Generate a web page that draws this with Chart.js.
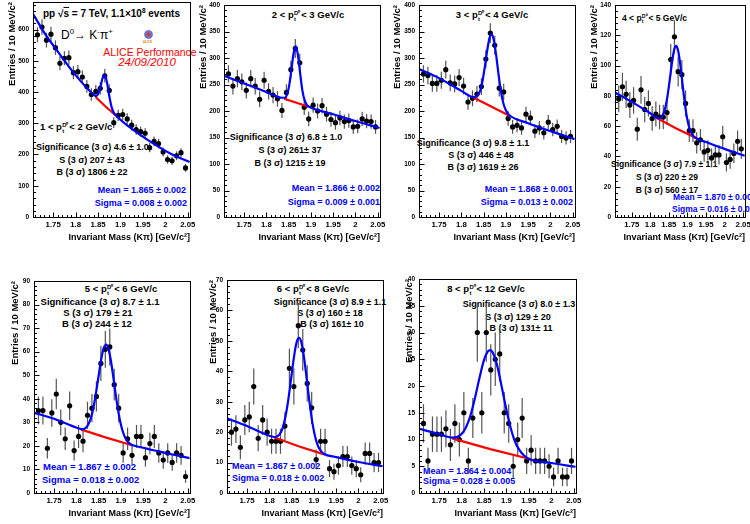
<!DOCTYPE html>
<html>
<head>
<meta charset="utf-8">
<script src="https://cdn.jsdelivr.net/npm/chart.js@4.4.1/dist/chart.umd.min.js"></script>
<style>
  html, body { margin: 0; padding: 0; background: #fff; }
  #page { position: relative; width: 750px; height: 524px; overflow: hidden; background: #fff; }
  #page canvas { position: absolute; }
  .t { position: absolute; white-space: nowrap; line-height: 1; font-family: "Liberation Sans", Arial, sans-serif;
       font-weight: bold; font-size: 9px; color: #000; }
  .c { transform: translate(-50%, -50%); }
  .l { transform: translate(0, -50%); }
  .r { transform: translate(-100%, -50%); }
  .blue { color: #0000ff; }
  .st { display: inline-block; font-size: 0.62em; line-height: 0.95; vertical-align: -0.45em; text-align: left; margin: 0 0.15em 0 0.05em; }
  .st span { display: block; }
  sup { font-size: 0.65em; vertical-align: 0.6em; line-height: 0; }
  .logo { position: absolute; left: 144px; top: 30px; width: 9px; height: 9px; border-radius: 50%;
          background: radial-gradient(circle, #d04020 0 25%, #7070d0 35% 60%, #b0a0e0 75%); }
  .logotxt { position: absolute; left: 143px; top: 40px; font: bold 3px "Liberation Sans", Arial, sans-serif; color: #e08000; }
</style>
</head>
<body>
<div id="page">

  <!-- panel 1 texts -->
  <div class="t l" style="left:43px;top:14px;font-size:10px">pp √<span style="text-decoration:overline">s</span> = 7 TeV, 1.1×10<sup>8</sup> events</div>
  <div class="t l" style="left:61px;top:35px;font-size:12px;font-weight:normal">D<sup>0</sup>→ K<sup>-</sup>π<sup>+</sup></div>
  <div class="logo"></div><div class="logotxt">ALICE</div>
  <div class="t c" style="left:150px;top:52px;font-size:10.5px;font-weight:normal;color:#ff0000">ALICE Performance</div>
  <div class="t c" style="left:147px;top:63px;font-size:11.5px;font-weight:normal;font-style:italic;color:#ff0000">24/09/2010</div>
  <div class="t l" style="left:40px;top:128px;font-size:9.5px">1 &lt; p<span class="st"><span>D⁰</span><span>t</span></span>&lt; 2 GeV/c</div>
  <div class="t l" style="left:36px;top:147px">Significance (3 σ) 4.6 ± 1.0</div>
  <div class="t c" style="left:92px;top:160px">S (3 σ) 207 ± 43</div>
  <div class="t c" style="left:92px;top:172px">B (3 σ) 1806 ± 22</div>
  <div class="t r blue" style="left:186px;top:190px">Mean = 1.865 ± 0.002</div>
  <div class="t r blue" style="left:187px;top:203px">Sigma = 0.008 ± 0.002</div>

  <!-- panel 2 texts -->
  <div class="t c" style="left:308px;top:16px;font-size:9.5px">2 &lt; p<span class="st"><span>D⁰</span><span>t</span></span>&lt; 3 GeV/c</div>
  <div class="t c" style="left:286px;top:137px">Significance (3 σ) 6.8 ± 1.0</div>
  <div class="t c" style="left:290px;top:150px">S (3 σ) 261± 37</div>
  <div class="t c" style="left:290px;top:163px">B (3 σ) 1215 ± 19</div>
  <div class="t r blue" style="left:380px;top:188px">Mean = 1.866 ± 0.002</div>
  <div class="t r blue" style="left:380px;top:202px">Sigma = 0.009 ± 0.001</div>

  <!-- panel 3 texts -->
  <div class="t c" style="left:492px;top:16px;font-size:9.5px">3 &lt; p<span class="st"><span>D⁰</span><span>t</span></span>&lt; 4 GeV/c</div>
  <div class="t c" style="left:473px;top:143px">Significance (3 σ) 9.8 ± 1.1</div>
  <div class="t c" style="left:481px;top:155px">S (3 σ) 446 ± 48</div>
  <div class="t c" style="left:483px;top:167px">B (3 σ) 1619 ± 26</div>
  <div class="t r blue" style="left:573px;top:189px">Mean = 1.868 ± 0.001</div>
  <div class="t r blue" style="left:573px;top:202px">Sigma = 0.013 ± 0.002</div>

  <!-- panel 4 texts -->
  <div class="t l" style="left:622px;top:19px;font-size:8.5px">4 &lt; p<span class="st"><span>D⁰</span><span>t</span></span>&lt; 5 GeV/c</div>
  <div class="t l" style="left:611px;top:164px;font-size:8.5px">Significance (3 σ) 7.9 ± 1.1</div>
  <div class="t c" style="left:667px;top:177px;font-size:8.5px">S (3 σ) 220 ± 29</div>
  <div class="t c" style="left:667px;top:190px;font-size:8.5px">B (3 σ) 560 ± 17</div>
  <div class="t l blue" style="left:673px;top:197px;font-size:8.5px">Mean = 1.870 ± 0.003</div>
  <div class="t l blue" style="left:672px;top:209px;font-size:8.5px">Sigma = 0.016 ± 0.003</div>

  <!-- panel 5 texts -->
  <div class="t c" style="left:121px;top:290px;font-size:9.5px">5 &lt; p<span class="st"><span>D⁰</span><span>t</span></span>&lt; 6 GeV/c</div>
  <div class="t c" style="left:100px;top:302px;font-size:9.5px">Significance (3 σ) 8.7 ± 1.1</div>
  <div class="t c" style="left:98px;top:313px;font-size:9.5px">S (3 σ) 179 ± 21</div>
  <div class="t c" style="left:97px;top:324px;font-size:9.5px">B (3 σ) 244 ± 12</div>
  <div class="t l blue" style="left:43px;top:467px;font-size:9.5px">Mean = 1.867 ± 0.002</div>
  <div class="t l blue" style="left:42px;top:480px;font-size:9.5px">Sigma = 0.018 ± 0.002</div>

  <!-- panel 6 texts -->
  <div class="t c" style="left:313px;top:290px;font-size:9.5px">6 &lt; p<span class="st"><span>D⁰</span><span>t</span></span>&lt; 8 GeV/c</div>
  <div class="t c" style="left:330px;top:302px">Significance (3 σ) 8.9 ± 1.1</div>
  <div class="t c" style="left:330px;top:313px">S (3 σ) 160 ± 18</div>
  <div class="t c" style="left:332px;top:324px">B (3 σ) 161± 10</div>
  <div class="t l blue" style="left:232px;top:466px">Mean = 1.867 ± 0.002</div>
  <div class="t l blue" style="left:232px;top:478px">Sigma = 0.018 ± 0.002</div>

  <!-- panel 7 texts -->
  <div class="t c" style="left:486px;top:290px;font-size:9.5px">8 &lt; p<span class="st"><span>D⁰</span><span>t</span></span>&lt; 12 GeV/c</div>
  <div class="t c" style="left:519px;top:304px">Significance (3 σ) 8.0 ± 1.3</div>
  <div class="t c" style="left:518px;top:317px">S (3 σ) 129 ± 20</div>
  <div class="t c" style="left:521px;top:328px">B (3 σ) 131± 11</div>
  <div class="t l blue" style="left:423px;top:471px">Mean = 1.864 ± 0.004</div>
  <div class="t l blue" style="left:423px;top:481px">Sigma = 0.028 ± 0.005</div>
</div>

<script>
// ---- data ----
// invariant-mass bin centres (GeV/c^2)
const MASS = [1.715, 1.725, 1.735, 1.745, 1.755, 1.765, 1.775, 1.785, 1.795, 1.805,
              1.815, 1.825, 1.835, 1.845, 1.855, 1.865, 1.875, 1.885, 1.895, 1.905,
              1.915, 1.925, 1.935, 1.945, 1.955, 1.965, 1.975, 1.985, 1.995, 2.005,
              2.015, 2.025, 2.035, 2.045];
const X_TICKS = [1.75, 1.8, 1.85, 1.9, 1.95, 2, 2.05];
const X_MIN = 1.705;
const X_MAX = 2.055;

// 1 < pt < 2
const COUNTS_1 = [583, 608, 566, 585, 542, 492, 508, 510, 462, 465, 448, 418, 392, 402, 412, 452, 405,
                  302, 325, 328, 314, 294, 280, 273, 268, 222, 242, 235, 208, 184, 180, 196, 206, 157];
const FIT_X_1 = [1.706, 1.73, 1.76, 1.80, 1.84, 1.845, 1.85, 1.855, 1.86, 1.865, 1.87, 1.875, 1.88, 1.885, 1.89, 1.93, 1.97, 2.01, 2.054];
const FIT_Y_1 = [648, 590, 530, 454, 392, 387, 393, 414, 444, 455, 430, 388, 353, 334, 325, 277, 238, 204, 176];
const BKG_X_1 = [1.845, 1.865, 1.89];
const BKG_Y_1 = [383, 356, 324];
const Y_TICKS_1 = [0, 100, 200, 300, 400, 500, 600];

// 2 < pt < 3
const COUNTS_2 = [270, 247, 261, 255, 239, 261, 247, 222, 258, 237, 230, 223, 201, 235, 278, 318, 291,
                  207, 185, 211, 200, 210, 194, 184, 178, 187, 180, 182, 170, 171, 185, 181, 180, 170];
const FIT_X_2 = [1.706, 1.75, 1.80, 1.836, 1.841, 1.846, 1.851, 1.856, 1.861, 1.866, 1.871, 1.876, 1.881, 1.886, 1.891, 1.896, 1.95, 2.0, 2.054];
const FIT_Y_2 = [266, 252, 236, 225, 225, 230, 247, 276, 308, 322, 305, 270, 238, 220, 211, 208, 194, 181, 168];
const BKG_X_2 = [1.84, 1.866, 1.895];
const BKG_Y_2 = [223, 216, 208];
const Y_TICKS_2 = [0, 50, 100, 150, 200, 250, 300, 350, 400];

// 3 < pt < 4
const COUNTS_3 = [270, 267, 252, 252, 258, 278, 253, 251, 263, 247, 217, 224, 232, 246, 298, 347, 324,
                  243, 236, 186, 170, 173, 168, 194, 187, 162, 168, 159, 179, 165, 171, 152, 149, 152];
const FIT_X_3 = [1.706, 1.75, 1.80, 1.828, 1.833, 1.838, 1.843, 1.848, 1.853, 1.858, 1.863, 1.868, 1.873, 1.878,
                 1.883, 1.888, 1.893, 1.898, 1.903, 1.908, 1.95, 2.0, 2.054];
const FIT_Y_3 = [279, 262, 238, 226, 227, 231, 240, 259, 285, 314, 337, 345, 333, 306, 272, 241, 219, 205, 197, 192, 177, 162, 147];
const BKG_X_3 = [1.828, 1.868, 1.908];
const BKG_Y_3 = [225, 208, 191];
const Y_TICKS_3 = [0, 50, 100, 150, 200, 250, 300, 350, 400];

// 4 < pt < 5
const COUNTS_4 = [78, 86, 81, 74, 77, 58, 84, 71, 75, 65, 68, 66, 66, 69, 104, 119, 96,
                  94, 75, 57, 57, 49, 51, 43, 44, 39, 41, 41, 53, 36, 38, 42, 50, 45];
const FIT_X_4 = [1.706, 1.75, 1.80, 1.82, 1.825, 1.83, 1.835, 1.84, 1.845, 1.85, 1.855, 1.86, 1.865, 1.87, 1.875,
                 1.88, 1.885, 1.89, 1.895, 1.90, 1.905, 1.91, 1.915, 1.92, 1.95, 2.0, 2.054];
const FIT_Y_4 = [82, 76, 68.5, 65.3, 65.3, 66, 68, 71.8, 77.8, 86.1, 95.6, 104.7, 111, 113, 109.8,
                 102.1, 91.8, 80.9, 71.4, 64, 59, 55.8, 53.7, 52.5, 49.5, 45, 40.5];
const BKG_X_4 = [1.82, 1.87, 1.925];
const BKG_Y_4 = [65, 58.5, 52];
const Y_TICKS_4 = [0, 20, 40, 60, 80, 100, 120, 140];

// 5 < pt < 6
const COUNTS_5 = [35, 35, 19, 34, 42, 30, 23, 37, 18, 24, 22, 33, 36, 41, 55, 61, 62,
                  46, 36, 17, 23, 16, 24, 24, 15, 21, 24, 17, 14, 17, 13, 17, 16, 7];
const FIT_X_5 = [1.706, 1.75, 1.79, 1.812, 1.817, 1.822, 1.827, 1.832, 1.837, 1.842, 1.847, 1.852, 1.857, 1.862, 1.867,
                 1.872, 1.877, 1.882, 1.887, 1.892, 1.897, 1.902, 1.907, 1.912, 1.917, 1.922, 1.95, 2.0, 2.054];
const FIT_Y_5 = [34, 31.5, 28.5, 27.1, 27.2, 27.8, 29.2, 31.5, 35, 40, 46, 52.3, 58, 61.8, 63,
                 61.2, 56.8, 50.5, 43.6, 37.1, 31.6, 27.5, 24.6, 22.6, 21.4, 20.7, 19.2, 17, 14.8];
const BKG_X_5 = [1.81, 1.867, 1.925];
const BKG_Y_5 = [27, 23.5, 20.3];
const Y_TICKS_5 = [0, 10, 20, 30, 40, 50, 60, 70, 80, 90];

// 6 < pt < 8
const COUNTS_6 = [20, 21, 15, 24, 25, 35, 18, 24, 20, 17, 17, 17, 22, 41, 35, 55, 47,
                  36, 28, 11, 17, 17, 8, 7, 9, 12, 12, 9, 8, 6, 13, 13, 10, 10];
const FIT_X_6 = FIT_X_5;
const FIT_Y_6 = [24.5, 22, 19.4, 18.4, 18.6, 19.1, 20.3, 22.4, 25.7, 30.1, 35.5, 41.2, 46.4, 49.9, 51,
                 49.4, 45.4, 39.8, 33.5, 27.7, 22.7, 19, 16.3, 14.6, 13.6, 12.9, 11.8, 10.2, 8.8];
const BKG_X_6 = [1.81, 1.867, 1.925];
const BKG_Y_6 = [18.3, 15.3, 12.6];
const Y_TICKS_6 = [0, 10, 20, 30, 40, 50, 60, 70];

// 8 < pt < 12
const COUNTS_7 = [13, 6, 11, 11, 11, 12, 9, 13, 10, 15, 6, 14, 30, 15, 30, 23, 25,
                  26, 15, 13, 5, 10, 14, 6, 8, 6, 6, 6, 5, 3, 6, 3, 3, 6];
const FIT_X_7 = [1.706, 1.75, 1.779, 1.789, 1.799, 1.809, 1.819, 1.829, 1.839, 1.849, 1.859, 1.864, 1.869,
                 1.879, 1.889, 1.899, 1.909, 1.919, 1.929, 1.939, 1.949, 2.0, 2.054];
const FIT_Y_7 = [12, 11, 10.35, 10.45, 10.96, 12.15, 14.3, 17.5, 21.2, 24.6, 26.5, 26.7, 26.3,
                 23.9, 20, 15.9, 12.3, 9.6, 8, 7, 6.4, 5.6, 4.9];
const BKG_X_7 = [1.779, 1.864, 1.955];
const BKG_Y_7 = [10.2, 8.2, 6.3];
const Y_TICKS_7 = [0, 5, 10, 15, 20, 25, 30, 35, 40];

// ---- layout: plot box [left, top, right, bottom] in page pixels ----
const PANELS = [
  { box: [33, 2, 190, 217],   padL: 26, yMax: 688, yTicks: Y_TICKS_1, counts: COUNTS_1, fx: FIT_X_1, fy: FIT_Y_1, bx: BKG_X_1, by: BKG_Y_1 },
  { box: [224, 5, 380, 217],  padL: 26, yMax: 400, yTicks: Y_TICKS_2, counts: COUNTS_2, fx: FIT_X_2, fy: FIT_Y_2, bx: BKG_X_2, by: BKG_Y_2 },
  { box: [419, 5, 575, 217],  padL: 27, yMax: 400, yTicks: Y_TICKS_3, counts: COUNTS_3, fx: FIT_X_3, fy: FIT_Y_3, bx: BKG_X_3, by: BKG_Y_3 },
  { box: [615, 5, 745, 217],  padL: 26, yMax: 140, yTicks: Y_TICKS_4, counts: COUNTS_4, fx: FIT_X_4, fy: FIT_Y_4, bx: BKG_X_4, by: BKG_Y_4 },
  { box: [34, 281, 190, 493], padL: 24, yMax: 90,  yTicks: Y_TICKS_5, counts: COUNTS_5, fx: FIT_X_5, fy: FIT_Y_5, bx: BKG_X_5, by: BKG_Y_5 },
  { box: [227, 280, 383, 493], padL: 19, yMax: 70, yTicks: Y_TICKS_6, counts: COUNTS_6, fx: FIT_X_6, fy: FIT_Y_6, bx: BKG_X_6, by: BKG_Y_6 },
  { box: [419, 279, 576, 493], padL: 15, yMax: 40, yTicks: Y_TICKS_7, counts: COUNTS_7, fx: FIT_X_7, fy: FIT_Y_7, bx: BKG_X_7, by: BKG_Y_7 },
];

const PAD_T = 12;
const PAD_R = 14;
const PAD_B = 26;
const FONT = "'Liberation Sans', Arial, sans-serif";

// ROOT-like frame, inward tick marks and statistical error bars
const rootFrame = {
  id: "rootFrame",
  beforeDatasetsDraw(chart) {
    const { ctx, chartArea: a, scales: { x, y } } = chart;
    const pts = chart.data.datasets[2].data;
    ctx.save();
    ctx.beginPath();
    ctx.rect(a.left, a.top, a.width, a.height);
    ctx.clip();
    ctx.strokeStyle = "#555";
    ctx.lineWidth = 1.2;
    pts.forEach((p) => {
      const err = Math.sqrt(p.y);
      const px = x.getPixelForValue(p.x);
      ctx.beginPath();
      ctx.moveTo(px, y.getPixelForValue(p.y - err));
      ctx.lineTo(px, y.getPixelForValue(p.y + err));
      ctx.stroke();
    });
    ctx.restore();
  },
  afterDraw(chart) {
    const { ctx, chartArea: a, scales: { x, y } } = chart;
    const yTicks = chart.options.plugins.rootFrame.yTicks;
    ctx.save();
    ctx.strokeStyle = "#000";
    ctx.lineWidth = 1;
    ctx.strokeRect(Math.round(a.left) + 0.5, Math.round(a.top) + 0.5, Math.round(a.width), Math.round(a.height));

    const bottom = Math.round(a.bottom) + 0.5;
    const left = Math.round(a.left) + 0.5;
    ctx.beginPath();
    // x: minor every 10 MeV, major at labels
    for (let i = 0; i <= 34; i++) {
      const px = Math.round(x.getPixelForValue(1.71 + i * 0.01)) + 0.5;
      ctx.moveTo(px, bottom);
      ctx.lineTo(px, bottom - 2.5);
    }
    X_TICKS.forEach((v) => {
      const px = Math.round(x.getPixelForValue(v)) + 0.5;
      ctx.moveTo(px, bottom);
      ctx.lineTo(px, bottom - 5);
    });
    // y: major at labels, 5 minor divisions
    const step = yTicks[1] - yTicks[0];
    for (let v = 0; v <= y.max; v += step / 5) {
      const py = Math.round(y.getPixelForValue(v)) + 0.5;
      ctx.moveTo(left, py);
      ctx.lineTo(left + 2.5, py);
    }
    yTicks.forEach((v) => {
      const py = Math.round(y.getPixelForValue(v)) + 0.5;
      ctx.moveTo(left, py);
      ctx.lineTo(left + 5, py);
    });
    ctx.stroke();
    ctx.restore();
  },
};

function makePanel(p) {
  const [l, t, r, b] = p.box;
  const canvas = document.createElement("canvas");
  canvas.width = p.padL + (r - l) + PAD_R;
  canvas.height = PAD_T + (b - t) + PAD_B;
  canvas.style.left = (l - p.padL) + "px";
  canvas.style.top = (t - PAD_T) + "px";
  document.getElementById("page").appendChild(canvas);

  new Chart(canvas.getContext("2d"), {
    type: "scatter",
    data: {
      datasets: [
        {
          data: p.fx.map((v, i) => ({ x: v, y: p.fy[i] })),
          showLine: true,
          borderColor: "#0000ff",
          borderWidth: 2.2,
          pointRadius: 0,
          cubicInterpolationMode: "monotone",
          order: 0,
        },
        {
          data: p.bx.map((v, i) => ({ x: v, y: p.by[i] })),
          showLine: true,
          borderColor: "#ff0000",
          borderWidth: 2.2,
          pointRadius: 0,
          order: 1,
        },
        {
          data: MASS.map((m, i) => ({ x: m, y: p.counts[i] })),
          showLine: false,
          pointRadius: 2.6,
          pointBackgroundColor: "#000",
          pointBorderWidth: 0,
          order: 2,
        },
      ],
    },
    options: {
      responsive: false,
      animation: false,
      devicePixelRatio: 1,
      events: [],
      layout: { padding: { left: 0, top: PAD_T, right: PAD_R, bottom: 0 } },
      plugins: {
        legend: { display: false },
        tooltip: { enabled: false },
        rootFrame: { yTicks: p.yTicks },
      },
      scales: {
        x: {
          type: "linear",
          min: X_MIN,
          max: X_MAX,
          afterBuildTicks: (s) => { s.ticks = X_TICKS.map((v) => ({ value: v })); },
          afterFit: (s) => { s.height = PAD_B; },
          grid: { display: false, drawTicks: false },
          border: { display: false },
          ticks: {
            padding: 3,
            maxRotation: 0,
            autoSkip: false,
            color: "#000",
            font: { family: FONT, size: 7.8, weight: "bold" },
            callback: (v) => String(v),
          },
          title: {
            display: true,
            text: "Invariant Mass (Kπ) [GeV/c²]",
            align: "end",
            color: "#000",
            padding: { top: 0, bottom: 0 },
            font: { family: FONT, size: 9, weight: "bold" },
          },
        },
        y: {
          type: "linear",
          min: 0,
          max: p.yMax,
          afterBuildTicks: (s) => { s.ticks = p.yTicks.map((v) => ({ value: v })); },
          afterFit: (s) => { s.width = p.padL; },
          grid: { display: false, drawTicks: false },
          border: { display: false },
          ticks: {
            padding: 4,
            color: "#000",
            font: { family: FONT, size: 6.5, weight: "bold" },
            callback: (v) => String(v),
          },
          title: {
            display: true,
            text: "Entries / 10 MeV/c²",
            align: "end",
            color: "#000",
            padding: { top: 0, bottom: 0 },
            font: { family: FONT, size: 9.5, weight: "bold" },
          },
        },
      },
    },
    plugins: [rootFrame],
  });
}

PANELS.forEach(makePanel);
</script>
</body>
</html>
